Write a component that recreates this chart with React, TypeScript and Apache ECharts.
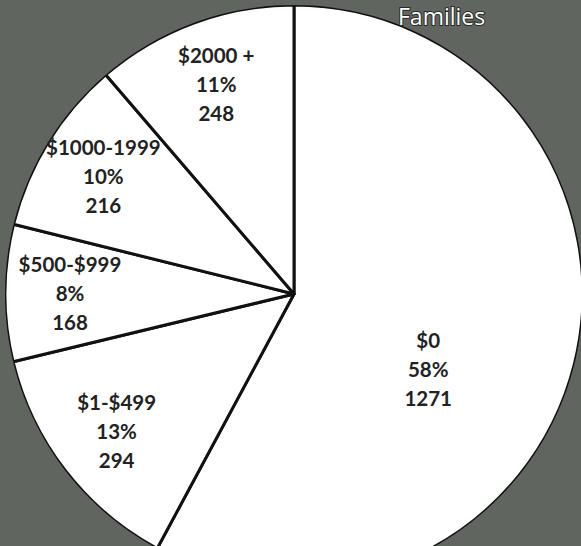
import React, { useEffect, useRef } from "react";
import * as echarts from "echarts";

const categories = ["$0", "$1-$499", "$500-$999", "$1000-1999", "$2000 +"];
const families = [1271, 294, 168, 216, 248];
const percents = ["58%", "13%", "8%", "10%", "11%"];
const titleText = "Families";

const CENTER: [number, number] = [294, 294];
const R = 289;
const LABEL_R0 = 153;
const BG = "#60655f";

export default function App() {
  const ref = useRef<HTMLDivElement>(null);
  useEffect(() => {
    document.body.style.margin = "0";
    if (!ref.current) return;
    const chart = echarts.init(ref.current, null, { renderer: "svg" });
    const data = categories.map((c, i) => ({ name: c, value: families[i] }));
    chart.setOption({
      animation: false,
      backgroundColor: BG,
      title: {
        text: titleText,
        left: 393,
        top: -1,
        textStyle: {
          color: "#ffffff",
          fontFamily: "Open Sans",
          fontWeight: "normal",
          fontSize: 23,
          textBorderColor: "#2a2a2a",
          textBorderWidth: 2,
        },
      },
      series: [
        {
          type: "pie",
          center: CENTER,
          radius: [0, R],
          startAngle: 90,
          clockwise: true,
          silent: true,
          label: { show: false },
          labelLine: { show: false },
          itemStyle: { color: "#ffffff", borderColor: "#111111", borderWidth: 3 },
          data,
        },
        {
          type: "pie",
          center: CENTER,
          radius: [R, R + 3],
          silent: true,
          label: { show: false },
          labelLine: { show: false },
          itemStyle: { color: BG, borderWidth: 0 },
          data: [{ name: "edge", value: 1 }],
          z: 3,
        },
        {
          type: "pie",
          center: CENTER,
          radius: [LABEL_R0, R],
          startAngle: 90,
          clockwise: true,
          silent: true,
          itemStyle: { color: "transparent", borderWidth: 0 },
          labelLine: { show: false },
          label: {
            show: true,
            position: "inside",
            fontFamily: "Lato",
            fontWeight: "bold",
            fontSize: 20.5,
            lineHeight: 29,
            color: "#222222",
            align: "center",
            formatter: (p: any) =>
              `${categories[p.dataIndex]}\n${percents[p.dataIndex]}\n${families[p.dataIndex]}`,
          },
          labelLayout: (p: any) => (p.dataIndex === 0 ? { dx: -83, dy: 20 } : {}),
          data,
          z: 4,
        },
      ],
    });
    return () => chart.dispose();
  }, []);
  return <div ref={ref} style={{ width: 581, height: 546 }} />;
}
